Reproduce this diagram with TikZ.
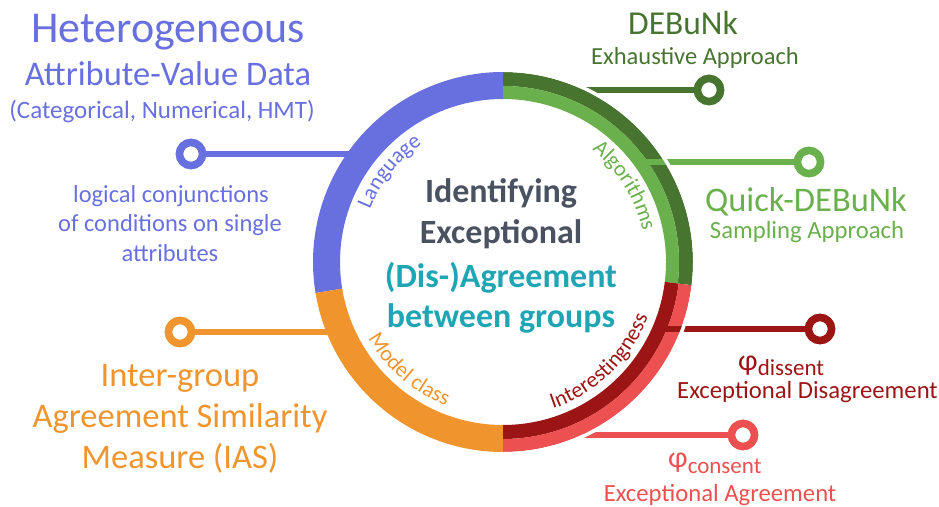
\documentclass[tikz,border=0pt]{standalone}
\usepackage{fontspec}
\setmainfont{Carlito}
\usetikzlibrary{decorations.text}
\definecolor{cpurple}{RGB}{104,112,224}
\definecolor{corange}{RGB}{240,149,45}
\definecolor{cdgreen}{RGB}{71,117,47}
\definecolor{clgreen}{RGB}{106,176,76}
\definecolor{cdred}{RGB}{156,21,21}
\definecolor{clred}{RGB}{236,80,80}
\definecolor{cgray}{RGB}{74,82,97}
\definecolor{cteal}{RGB}{32,165,180}
\newcommand{\myfs}[1]{\fontsize{#1}{#1}\selectfont}
\newcommand{\ringseg}[5]{\fill[#1] (#2:#5pt) arc[start angle=#2,end angle=#3,radius=#5pt] -- (#3:#4pt) arc[start angle=#3,end angle=#2,radius=#4pt] -- cycle;}
\begin{document}
\begin{tikzpicture}[x=1pt,y=1pt,
  txt/.style={inner sep=0pt, anchor=base},
  dot/.style={circle, draw=#1, fill=white, line width=7.5pt, minimum size=23pt, inner sep=0pt},
  conn/.style={draw=#1, line width=6pt},
  ringlabel/.style 2 args={decorate, decoration={text along path, text={|\myfs{22}|#2}, text align=center, text color=#1}}
]
\useasboundingbox (0,0) rectangle (939,506);

% ring
\begin{scope}[shift={(503,244)}]
  \ringseg{cpurple}{90}{189.4}{163}{190}
  \ringseg{corange}{189.4}{270}{163}{190}
  \ringseg{cdgreen}{-7}{90}{176}{190}
  \ringseg{clgreen}{-7}{90}{163}{176}
  \ringseg{cdred}{-90}{-7}{163}{177}
  \ringseg{clred}{-90}{-7}{177}{190}
\end{scope}

% connector end points on the ring
\coordinate (pL) at (350,352);
\coordinate (pM) at (335,174);
\coordinate (pA) at (583,416);
\coordinate (pQ) at (640,344);
\coordinate (pD) at (658,177);
\coordinate (pC) at (583,71);

% dots
\node[dot=cpurple] (dL) at (191,352) {};
\node[dot=corange] (dM) at (180,174) {};
\node[dot=cdgreen] (dA) at (709,416) {};
\node[dot=clgreen] (dQ) at (809,344) {};
\node[dot=cdred]   (dD) at (820,177) {};
\node[dot=clred]   (dC) at (743,71) {};

% connectors
\draw[conn=cpurple] (pL) -- (dL);
\draw[conn=corange] (pM) -- (dM);
\draw[conn=cdgreen] (pA) -- (dA);
\draw[conn=clgreen] (pQ) -- (dQ);
\draw[conn=cdred]   (pD) -- (dD);
\draw[conn=clred]   (pC) -- (dC);

% white gap on the right outside of the ring
\begin{scope}[shift={(503,244)}]
  \draw[white, line width=3.5pt] (-90:191.75pt) arc[start angle=-90, end angle=90, radius=191.75pt];
\end{scope}

% redraw dots on top
\node[dot=cpurple] at (dL) {};
\node[dot=corange] at (dM) {};
\node[dot=cdgreen] at (dA) {};
\node[dot=clgreen] at (dQ) {};
\node[dot=cdred]   at (dD) {};
\node[dot=clred]   at (dC) {};

% ring labels
\begin{scope}[shift={(503,244)}]
  \path[ringlabel={cpurple}{Language}] (175:143pt) arc[start angle=175, end angle=108, radius=143pt];
  \path[ringlabel={clgreen}{Algorithms}] (67:143pt) arc[start angle=67, end angle=-3, radius=143pt];
  \path[ringlabel={corange}{Model class}] (192:155pt) arc[start angle=192, end angle=266, radius=155pt];
  \path[ringlabel={cdred}{Interestingness}] (272:155pt) arc[start angle=272, end angle=356, radius=155pt];
\end{scope}

% center text
\node[txt, text=cgray] (c1) at (501,303) {\myfs{34}\bfseries Identifying};
\node[txt, text=cgray] (c2) at (501,262) {\myfs{34}\bfseries Exceptional};
\node[txt, text=cteal] (c3) at (501,218) {\myfs{34}\bfseries (Dis-)Agreement};
\node[txt, text=cteal] (c4) at (501,178) {\myfs{34}\bfseries between groups};

% left upper
\node[txt, text=cpurple] (h1) at (168,463) {\myfs{44}Heterogeneous};
\node[txt, text=cpurple] (h2) at (168,420) {\myfs{34.5}Attribute-Value Data};
\node[txt, text=cpurple] (h3) at (162,387) {\myfs{25}(Categorical, Numerical, HMT)};
\node[txt, text=cpurple] (l1) at (171,303) {\myfs{24.5}logical conjunctions};
\node[txt, text=cpurple] (l2) at (170,274) {\myfs{24.5}of conditions on single};
\node[txt, text=cpurple] (l3) at (170,244) {\myfs{24.5}attributes};

% left lower
\node[txt, text=corange] (m1) at (180,119) {\myfs{34.5}Inter-group};
\node[txt, text=corange] (m2) at (180,78) {\myfs{34.5}Agreement Similarity};
\node[txt, text=corange] (m3) at (180,38) {\myfs{34.5}Measure (IAS)};

% right
\node[txt, text=cdgreen] (a1) at (683,471) {\myfs{33.5}DEBuNk};
\node[txt, text=cdgreen] (a2) at (695,441) {\myfs{24.5}Exhaustive Approach};
\node[txt, text=clgreen] (q1) at (806,294) {\myfs{34.5}Quick-DEBuNk};
\node[txt, text=clgreen] (q2) at (807,267) {\myfs{24.7}Sampling Approach};
\node[txt, anchor=base west, text=cdred] (d1) at (738,135) {\myfs{30}φ\raisebox{-5pt}{\myfs{23}dissent}};
\node[txt, text=cdred] (d2) at (807.5,107) {\myfs{24.7}Exceptional Disagreement};
\node[txt, anchor=base west, text=clred] (e1) at (668,39) {\myfs{30}φ\raisebox{-6pt}{\myfs{23}consent}};
\node[txt, text=clred] (e2) at (720,4.5) {\myfs{24.7}Exceptional Agreement};
\end{tikzpicture}
\end{document}
